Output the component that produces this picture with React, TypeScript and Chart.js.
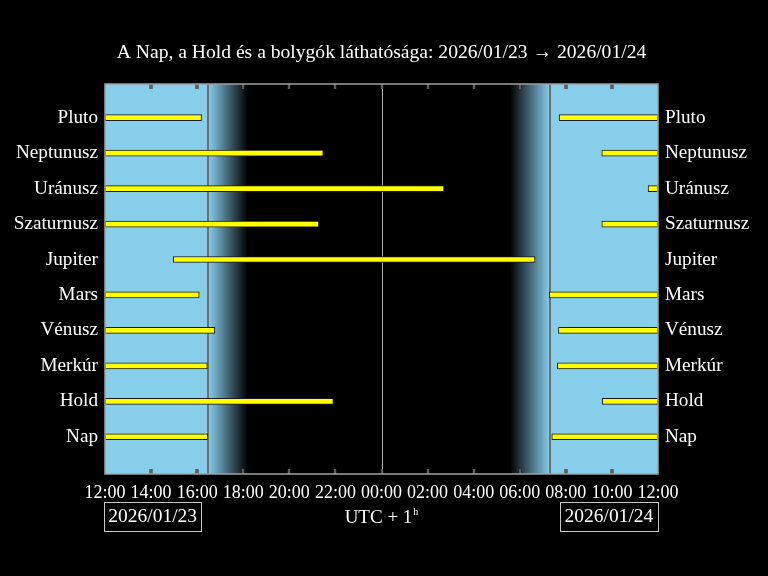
import React, { useEffect, useRef } from 'react';
import { Chart, registerables } from 'chart.js';

Chart.register(...registerables);

// Hours counted from 12:00 on 2026/01/23 (0) to 12:00 on 2026/01/24 (24)
const categories = ['Nap', 'Hold', 'Merkúr', 'Vénusz', 'Mars', 'Jupiter', 'Szaturnusz', 'Uránusz', 'Neptunusz', 'Pluto'];
const eveningStart = [0, 0, 0, 0, 0, 2.96, 0, 0, 0, 0];
const eveningEnd = [4.46, 9.91, 4.44, 4.76, 4.09, 18.66, 9.28, 14.71, 9.47, 4.19];
const morningStart: (number | null)[] = [19.39, 21.58, 19.63, 19.68, 19.28, null, 21.56, 23.57, 21.56, 19.71];
const morningEnd = 24;

const sunset = 4.47;
const nightStart = 6.2;
const nightEnd = 17.58;
const sunrise = 19.31;
const midnight = 12;

const xTickValues = [0, 2, 4, 6, 8, 10, 12, 14, 16, 18, 20, 22, 24];
const titleText = 'A Nap, a Hold és a bolygók láthatósága: 2026/01/23 → 2026/01/24';
const dateLeft = '2026/01/23';
const dateRight = '2026/01/24';
const utcText = 'UTC + 1';
const utcSup = 'h';

const FONT = '"Liberation Serif", "DejaVu Serif", serif';
const SKY = '#87ceeb';

function fmtHour(v: number): string {
  const h = (12 + v) % 24;
  return String(h).padStart(2, '0') + ':00';
}

const backgroundPlugin = {
  id: 'bg',
  beforeDraw(chart: any) {
    const { ctx, chartArea: a, scales } = chart;
    const x = scales.x;
    ctx.save();
    ctx.fillStyle = '#000';
    ctx.fillRect(0, 0, chart.width, chart.height);
    const px = (v: number) => x.getPixelForValue(v);
    const xs = px(sunset), xn1 = px(nightStart), xn2 = px(nightEnd), xr = px(sunrise);
    ctx.fillStyle = SKY;
    ctx.fillRect(a.left, a.top, xs - a.left, a.bottom - a.top);
    ctx.fillRect(xr, a.top, a.right - xr, a.bottom - a.top);
    let g = ctx.createLinearGradient(xs, 0, xn1, 0);
    g.addColorStop(0, SKY);
    g.addColorStop(1, '#000');
    ctx.fillStyle = g;
    ctx.fillRect(xs, a.top, xn1 - xs, a.bottom - a.top);
    g = ctx.createLinearGradient(xn2, 0, xr, 0);
    g.addColorStop(0, '#000');
    g.addColorStop(1, SKY);
    ctx.fillStyle = g;
    ctx.fillRect(xn2, a.top, xr - xn2, a.bottom - a.top);
    ctx.restore();
  },
  beforeDatasetsDraw(chart: any) {
    const { ctx, chartArea: a, scales } = chart;
    const x = scales.x;
    ctx.save();
    ctx.strokeStyle = '#6e6e6e';
    ctx.lineWidth = 2;
    for (const v of [sunset, sunrise]) {
      const p = Math.round(x.getPixelForValue(v));
      ctx.beginPath();
      ctx.moveTo(p, a.top);
      ctx.lineTo(p, a.bottom);
      ctx.stroke();
    }
    ctx.strokeStyle = '#b0b0b0';
    ctx.lineWidth = 1;
    const pm = Math.round(x.getPixelForValue(midnight)) + 0.5;
    ctx.beginPath();
    ctx.moveTo(pm, a.top);
    ctx.lineTo(pm, a.bottom);
    ctx.stroke();
    for (const v of xTickValues.slice(1, -1)) {
      const p = Math.round(x.getPixelForValue(v));
      for (const [y0, y1] of [[a.top, a.top + 5], [a.bottom, a.bottom - 5]]) {
        ctx.strokeStyle = '#222';
        ctx.lineWidth = 3;
        ctx.beginPath();
        ctx.moveTo(p, y0);
        ctx.lineTo(p, y1);
        ctx.stroke();
        ctx.strokeStyle = '#888';
        ctx.lineWidth = 1.2;
        ctx.beginPath();
        ctx.moveTo(p, y0);
        ctx.lineTo(p, y1);
        ctx.stroke();
      }
    }
    ctx.restore();
  },
  afterDraw(chart: any) {
    const { ctx, chartArea: a, scales } = chart;
    const x = scales.x;
    ctx.save();
    ctx.strokeStyle = '#a0a0a0';
    ctx.lineWidth = 1.5;
    ctx.strokeRect(a.left, a.top, a.right - a.left, a.bottom - a.top);
    ctx.fillStyle = '#fff';
    ctx.textAlign = 'center';
    ctx.textBaseline = 'middle';
    ctx.font = `19.6px ${FONT}`;
    ctx.fillText(titleText, (a.left + a.right) / 2, 53);
    ctx.font = `19.5px ${FONT}`;
    const boxes: [string, number, number][] = [
      [dateLeft, a.left - 1, x.getPixelForValue(4.18)],
      [dateRight, x.getPixelForValue(19.74), a.right],
    ];
    ctx.strokeStyle = '#c8c8c8';
    ctx.lineWidth = 1;
    for (const [t, l, r] of boxes) {
      ctx.strokeRect(Math.round(l) + 0.5, 502.5, Math.round(r - l), 29);
      ctx.fillText(t, (l + r) / 2, 517);
    }
    ctx.font = `19px ${FONT}`;
    const cx = (a.left + a.right) / 2;
    const w = ctx.measureText(utcText).width;
    ctx.textAlign = 'left';
    ctx.fillText(utcText, cx - w / 2 - 3, 518);
    ctx.font = `10px ${FONT}`;
    ctx.fillText(utcSup, cx + w / 2 - 2, 512);
    ctx.restore();
  },
};

export default function App() {
  const ref = useRef<HTMLCanvasElement | null>(null);
  useEffect(() => {
    if (!ref.current) return;
    const data: { x: [number, number]; y: number }[] = [];
    categories.forEach((_, i) => {
      data.push({ x: [eveningStart[i], eveningEnd[i]], y: i });
      const ms = morningStart[i];
      if (ms !== null) data.push({ x: [ms, morningEnd], y: i });
    });
    const yTicks = (scale: any) => {
      scale.ticks = categories.map((_, i) => ({ value: i }));
    };
    const yScale = (pos: 'left' | 'right', width: number) => ({
      type: 'linear',
      position: pos,
      min: -1.05,
      max: 9.95,
      offset: false,
      afterBuildTicks: yTicks,
      afterFit: (s: any) => {
        s.width = width;
      },
      grid: { display: false, drawTicks: false, offset: false },
      border: { display: false },
      ticks: {
        color: '#fff',
        padding: 7,
        autoSkip: false,
        font: { family: FONT, size: 19.2 },
        callback: (v: any) => categories[Number(v)] ?? '',
      },
    });
    const chart = new Chart(ref.current, {
      type: 'bar',
      data: {
        datasets: [
          {
            data: data as any,
            backgroundColor: '#ffff00',
            borderColor: '#1a1a1a',
            borderWidth: 1,
            borderSkipped: false,
            barThickness: 6,
          },
        ],
      },
      plugins: [backgroundPlugin],
      options: {
        indexAxis: 'y',
        animation: false,
        responsive: false,
        layout: { padding: { top: 84, left: 0, right: 0, bottom: 0 } },
        plugins: { legend: { display: false }, tooltip: { enabled: false }, title: { display: false } },
        scales: {
          x: {
            type: 'linear',
            position: 'bottom',
            min: 0,
            max: 24,
            afterBuildTicks: (s: any) => {
              s.ticks = xTickValues.map((v) => ({ value: v }));
            },
            afterFit: (s: any) => {
              s.height = 102;
            },
            grid: { display: false, drawTicks: false },
            border: { display: false },
            ticks: {
              color: '#fff',
              padding: 8,
              maxRotation: 0,
              autoSkip: false,
              font: { family: FONT, size: 18 },
              callback: (v: any) => fmtHour(Number(v)),
            },
          },
          y: yScale('left', 105) as any,
          y2: yScale('right', 110) as any,
        },
      },
    });
    return () => chart.destroy();
  }, []);
  return (
    <div style={{ position: 'fixed', left: 0, top: 0, width: 768, height: 576, background: '#000' }}>
      <canvas ref={ref} width={768} height={576} style={{ display: 'block' }} />
    </div>
  );
}
